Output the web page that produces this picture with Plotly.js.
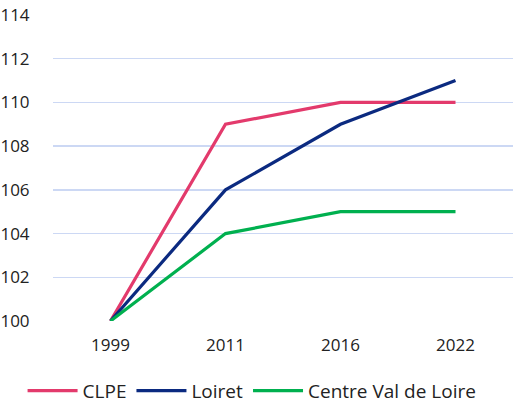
<!DOCTYPE html>
<html>
<head>
<meta charset="utf-8">
<script src="https://cdn.plot.ly/plotly-3.0.1.min.js"></script>
<style>html,body{margin:0;padding:0;background:#fff}#chart{width:513px;height:405px}</style>
</head>
<body>
<div id="chart"></div>
<script>
const years = ["1999", "2011", "2016", "2022"];
const clpe = [100, 109, 110, 110];
const loiret = [100, 106, 109, 111];
const centreValDeLoire = [100, 104, 105, 105];
const yTicks = [100, 102, 104, 106, 108, 110, 112, 114];

const mk = (name, y, color) => ({
  type: 'scatter', mode: 'lines', name: name, x: years, y: y,
  line: {color: color, width: 3.2}, cliponaxis: false
});

const data = [
  mk('CLPE', clpe, '#E33A6C'),
  mk('Loiret', loiret, '#0B2A80'),
  mk('Centre Val de Loire', centreValDeLoire, '#00B04F')
];

const layout = {
  width: 513, height: 405,
  margin: {l: 53, r: 0, t: 15, b: 84, autoexpand: false},
  paper_bgcolor: '#fff', plot_bgcolor: '#fff',
  font: {family: 'Open Sans, sans-serif', size: 17, color: '#222'},
  showlegend: true,
  legend: {orientation: 'h', x: 0.044, xanchor: 'left', xref: 'container', y: 0.035, yanchor: 'middle', yref: 'container', font: {size: 19}, itemwidth: 50, tracegroupgap: 0},
  xaxis: {type: 'category', range: [-0.5, 3.5], showgrid: false, zeroline: false, showline: false, ticks: 'outside', ticklen: 9, tickcolor: 'rgba(0,0,0,0)', tickfont: {size: 17}, automargin: false},
  yaxis: {range: [100, 114], tickvals: yTicks, ticktext: yTicks.map(String), showgrid: true, gridcolor: '#CCD8F4', gridwidth: 1.5, zeroline: false, showline: false, ticks: 'outside', ticklen: 19, tickcolor: 'rgba(0,0,0,0)', tickfont: {size: 17}, automargin: false}
};

Plotly.newPlot('chart', data, layout, {displayModeBar: false, staticPlot: true});
</script>
</body>
</html>
